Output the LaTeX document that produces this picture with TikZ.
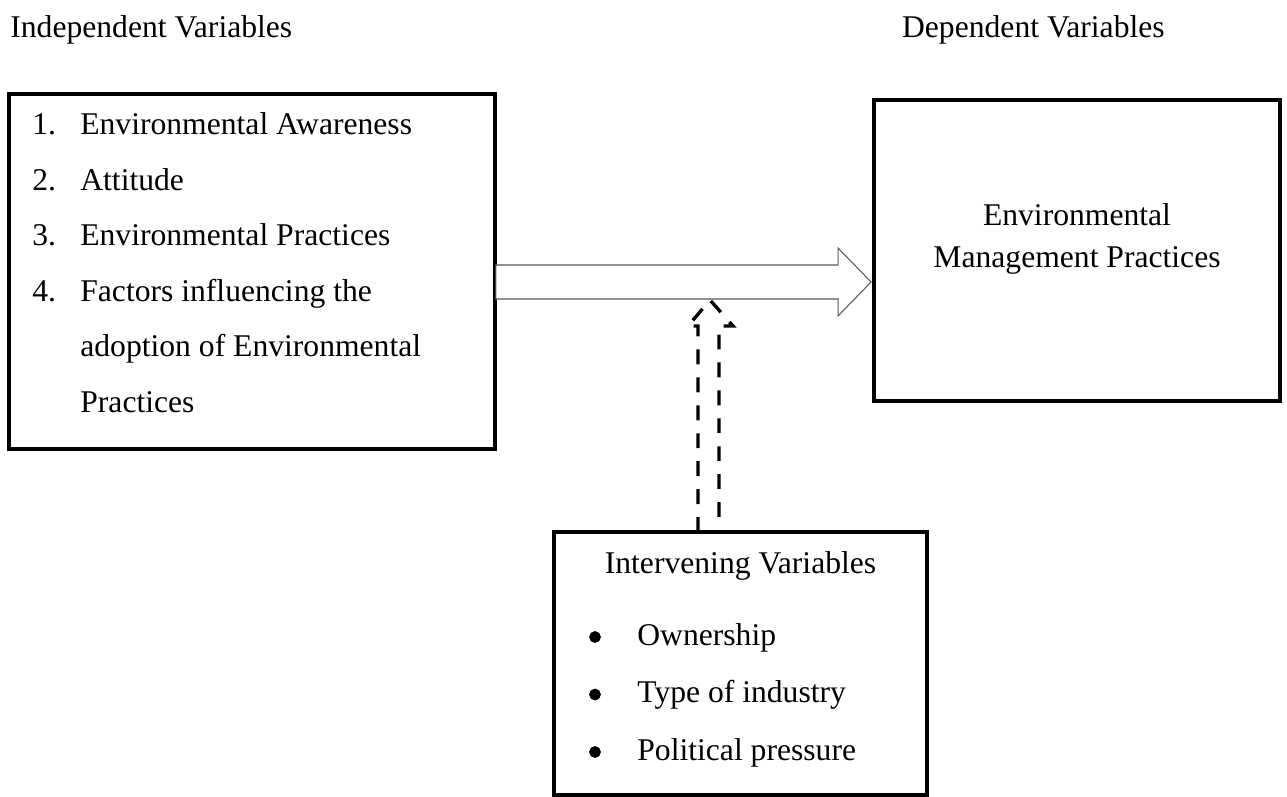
\documentclass[tikz,border=0pt]{standalone}
\usepackage{fontspec}
\setmainfont{Liberation Serif}
\usetikzlibrary{calc}

\tikzset{
  box/.style = {draw, line width=2.6pt, outer sep=0pt, inner sep=0pt},
  label/.style = {inner sep=0pt, font=\fontsize{18}{21.6}\selectfont},
  dot/.style = {circle, fill, draw, inner sep=0pt, minimum size=0.22cm},
  blockarrow/.style = {draw=black!65, line width=0.6pt, fill=white},
  dasharrow/.style = {line width=1.9pt, dash pattern=on 8.5pt off 7.4pt}
}

\begin{document}
\begin{tikzpicture}[x=0.02cm, y=-0.02cm]
\useasboundingbox (0,0) rectangle (1287,797);

% headings
\node [label, anchor=base west] (indephead) at (10,38) {Independent Variables};
\node [label, anchor=base east] (dephead) at (1165,38) {Dependent Variables};

% boxes
\node [box, minimum width=9.72cm, minimum height=7.1cm] (indep) at (252,271.5) {};
\node [box, minimum width=8.12cm, minimum height=6.02cm] (dep) at (1077,250.5) {};
\node [box, minimum width=7.46cm, minimum height=5.26cm] (inter) at (740.5,663.5) {};

% independent variables
\foreach \num/\txt [count=\i from 0] in {1./Environmental Awareness, 2./Attitude,
    3./Environmental Practices, 4./Factors influencing the,
    /adoption of Environmental, /Practices} {
  \node [label, anchor=base west] (num\i) at (32,135+55.4*\i) {\num};
  \node [label, anchor=base west] (item\i) at (80,135+55.4*\i) {\txt};
}

% dependent variable
\node [label, anchor=base] (dep1) at (1077,225) {Environmental};
\node [label, anchor=base] (dep2) at (1077,267) {Management Practices};

% intervening variables
\node [label, anchor=base] (interhead) at (740.5,573) {Intervening Variables};
\foreach \txt [count=\i from 0] in {Ownership, Type of industry, Political pressure} {
  \node [dot] (bul\i) at (595,637+57.5*\i) {};
  \node [label, anchor=base west] (var\i) at (637,645+57.5*\i) {\txt};
}

% block arrow from independent to dependent
\coordinate (ba) at (indep.east |- 0,282);
\coordinate (bb) at ($(dep.west |- 0,282)+(-3,0)$);
\draw [blockarrow] ($(ba)+(1,-17)$) -- ($(bb)+(-33,-17)$) -- ($(bb)+(-33,-34)$)
  -- (bb) -- ($(bb)+(-33,34)$) -- ($(bb)+(-33,17)$) -- ($(ba)+(1,17)$) -- cycle;

% dashed arrow from intervening box
\coordinate (dbase) at (inter.north -| 708.5,0);
\coordinate (dtip) at (710,300);
\draw [dasharrow] ($(dbase)+(-10.5,0)$) -- ($(dbase)+(-10.5,-206)$) -- ($(dbase)+(-20.5,-206)$)
  -- (dtip) -- ($(dbase)+(24.5,-206)$) -- ($(dbase)+(10.5,-206)$) -- ($(dbase)+(10.5,0)$) -- cycle;
\end{tikzpicture}
\end{document}
